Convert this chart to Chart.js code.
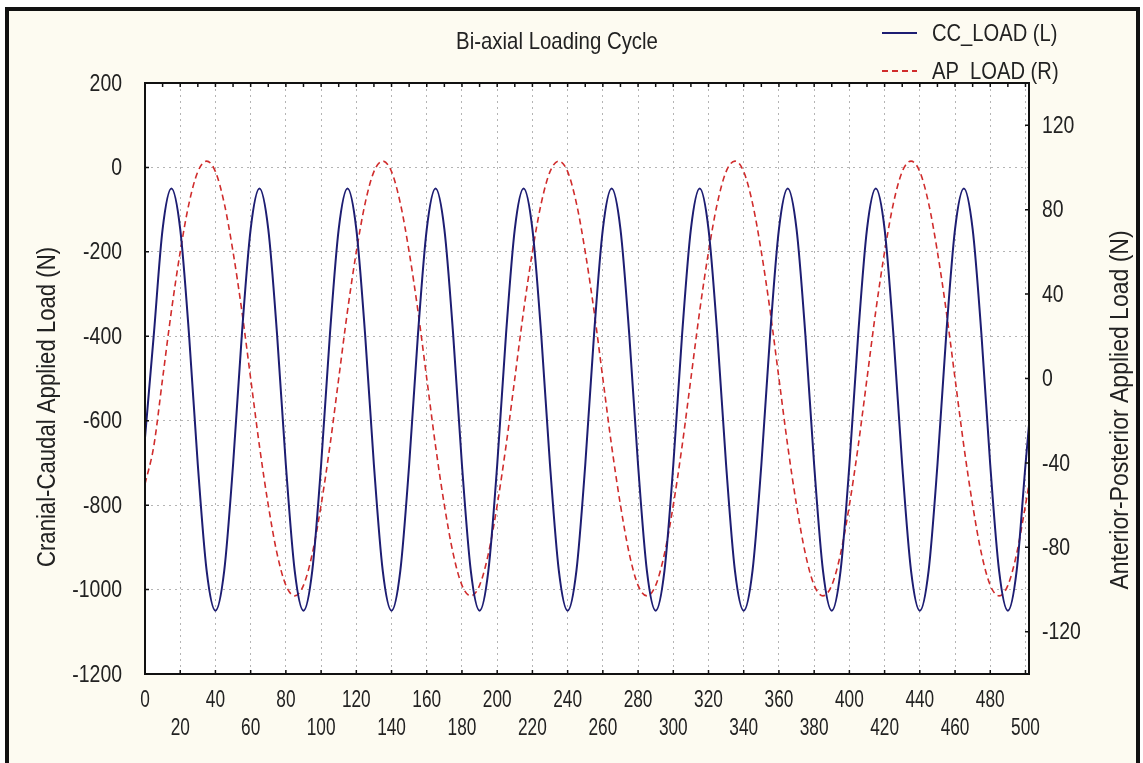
<!DOCTYPE html>
<html>
<head>
<meta charset="utf-8">
<script src="https://cdn.jsdelivr.net/npm/chart.js@4.4.1/dist/chart.umd.min.js"></script>
<style>
  html, body { margin: 0; padding: 0; background: #fff; }
  #wrap { width: 1143px; height: 763px; }
</style>
</head>
<body>
<div id="wrap"><canvas id="loadChart" width="1143" height="763"></canvas></div>
<script>
// sample position (cycle axis)
const cycle = [
  0, 5, 10, 15, 20, 25, 30, 35, 40, 45,
  50, 55, 60, 65, 70, 75, 80, 85, 90, 95,
  100, 105, 110, 115, 120, 125, 130, 135, 140, 145,
  150, 155, 160, 165, 170, 175, 180, 185, 190, 195,
  200, 205, 210, 215, 220, 225, 230, 235, 240, 245,
  250, 255, 260, 265, 270, 275, 280, 285, 290, 295,
  300, 305, 310, 315, 320, 325, 330, 335, 340, 345,
  350, 355, 360, 365, 370, 375, 380, 385, 390, 395,
  400, 405, 410, 415, 420, 425, 430, 435, 440, 445,
  450, 455, 460, 465, 470, 475, 480, 485, 490, 495,
  500, 502
];

// CC_LOAD (N), left axis
const ccLoad = [
  -640, -396, -146, -50, -146, -396, -705, -955, -1050, -955,
  -705, -396, -146, -50, -146, -396, -705, -955, -1050, -955,
  -705, -396, -146, -50, -146, -396, -705, -955, -1050, -955,
  -705, -396, -146, -50, -146, -396, -705, -955, -1050, -955,
  -705, -396, -146, -50, -146, -396, -705, -955, -1050, -955,
  -705, -396, -146, -50, -146, -396, -705, -955, -1050, -955,
  -705, -396, -146, -50, -146, -396, -705, -955, -1050, -955,
  -705, -396, -146, -50, -146, -396, -705, -955, -1050, -955,
  -705, -396, -146, -50, -146, -396, -705, -955, -1050, -955,
  -705, -396, -146, -50, -146, -396, -705, -955, -1050, -955,
  -705, -610
];

// AP_LOAD (N), right axis
const apLoad = [
  -50, -32, 0, 32, 60, 83, 98, 103, 98, 83,
  60, 32, 0, -32, -60, -83, -98, -103, -98, -83,
  -60, -32, 0, 32, 60, 83, 98, 103, 98, 83,
  60, 32, 0, -32, -60, -83, -98, -103, -98, -83,
  -60, -32, 0, 32, 60, 83, 98, 103, 98, 83,
  60, 32, 0, -32, -60, -83, -98, -103, -98, -83,
  -60, -32, 0, 32, 60, 83, 98, 103, 98, 83,
  60, 32, 0, -32, -60, -83, -98, -103, -98, -83,
  -60, -32, 0, 32, 60, 83, 98, 103, 98, 83,
  60, 32, 0, -32, -60, -83, -98, -103, -98, -83,
  -60, -50
];

const xTicks = [0, 20, 40, 60, 80, 100, 120, 140, 160, 180, 200, 220, 240,
  260, 280, 300, 320, 340, 360, 380, 400, 420, 440, 460, 480, 500];
const leftTicks = [-1200, -1000, -800, -600, -400, -200, 0, 200];
const rightTicks = [-120, -80, -40, 0, 40, 80, 120];

const FONT = "'Liberation Sans Narrow', 'Arial Narrow', 'Liberation Sans', Arial, sans-serif";
Chart.defaults.font.family = FONT;
Chart.defaults.font.size = 23;
Chart.defaults.color = '#222';

const BLUE = '#1d1d72';
const RED = '#d02c2c';

const toPoints = (ys) => ys.map((y, i) => ({ x: cycle[i], y: y }));

// narrow text: the original uses a condensed face, so squeeze horizontally
function narrowText(ctx, text, x, y, sx, align, rot) {
  ctx.save();
  ctx.translate(x, y);
  if (rot) ctx.rotate(rot);
  ctx.scale(sx, 1);
  ctx.textAlign = align;
  ctx.fillText(text, 0, 0);
  ctx.restore();
}

const decor = {
  id: 'decor',
  beforeDraw(chart) {
    const { ctx, chartArea: a } = chart;
    ctx.save();
    ctx.fillStyle = '#fff';
    ctx.fillRect(0, 0, chart.width, chart.height);
    ctx.fillStyle = '#fdfbf1';
    ctx.fillRect(7, 9, 1131, 800);
    ctx.strokeStyle = '#111';
    ctx.lineWidth = 4;
    ctx.strokeRect(7, 9, 1131, 800);
    ctx.fillStyle = '#fff';
    ctx.fillRect(a.left, a.top, a.right - a.left, a.bottom - a.top);
    ctx.restore();
  },
  afterDraw(chart) {
    const { ctx, chartArea: a, scales } = chart;
    ctx.save();
    // plot frame
    ctx.strokeStyle = '#111';
    ctx.lineWidth = 2;
    ctx.strokeRect(a.left, a.top, a.right - a.left, a.bottom - a.top);
    // inward tick marks
    ctx.lineWidth = 1.5;
    ctx.beginPath();
    scales.x.ticks.forEach(t => {
      const px = scales.x.getPixelForValue(t.value);
      ctx.moveTo(px, a.bottom); ctx.lineTo(px, a.bottom - 4);
    });
    for (let v = 10; v < 502; v += 10) {
      const px = scales.x.getPixelForValue(v);
      ctx.moveTo(px, a.top); ctx.lineTo(px, a.top + 4);
    }
    scales.y.ticks.forEach(t => {
      const py = scales.y.getPixelForValue(t.value);
      ctx.moveTo(a.left, py); ctx.lineTo(a.left + 4, py);
    });
    scales.y1.ticks.forEach(t => {
      const py = scales.y1.getPixelForValue(t.value);
      ctx.moveTo(a.right, py); ctx.lineTo(a.right - 4, py);
    });
    ctx.stroke();

    ctx.fillStyle = '#222';
    ctx.textBaseline = 'middle';

    // tick labels
    ctx.font = '24px ' + FONT;
    scales.y.ticks.forEach(t => {
      narrowText(ctx, String(t.value), a.left - 23, scales.y.getPixelForValue(t.value) + 1, 0.81, 'right');
    });
    scales.y1.ticks.forEach(t => {
      narrowText(ctx, String(t.value), a.right + 13, scales.y1.getPixelForValue(t.value) + 1, 0.81, 'left');
    });
    ctx.font = '23px ' + FONT;
    scales.x.ticks.forEach(t => {
      const row = (t.value / 20) % 2 === 0 ? 701 : 729;
      narrowText(ctx, String(t.value), scales.x.getPixelForValue(t.value), row, 0.75, 'center');
    });

    // title
    ctx.font = '24px ' + FONT;
    narrowText(ctx, 'Bi-axial Loading Cycle', 557, 42, 0.85, 'center');

    // legend
    narrowText(ctx, 'CC_LOAD (L)', 932, 34, 0.84, 'left');
    narrowText(ctx, 'AP_LOAD (R)', 932, 72, 0.84, 'left');
    ctx.lineWidth = 2;
    ctx.strokeStyle = BLUE;
    ctx.beginPath(); ctx.moveTo(882, 33); ctx.lineTo(917, 33); ctx.stroke();
    ctx.strokeStyle = RED;
    ctx.setLineDash([6, 4]);
    ctx.beginPath(); ctx.moveTo(882, 71); ctx.lineTo(917, 71); ctx.stroke();
    ctx.setLineDash([]);

    // axis titles
    ctx.font = '25px ' + FONT;
    narrowText(ctx, 'Cranial-Caudal Applied Load (N)', 48, 407, 0.886, 'center', -Math.PI / 2);
    narrowText(ctx, 'Anterior-Posterior Applied Load (N)', 1121, 410, 0.92, 'center', -Math.PI / 2);
    ctx.restore();
  }
};

new Chart(document.getElementById('loadChart'), {
  type: 'line',
  data: {
    datasets: [{
      label: 'CC_LOAD (L)',
      data: toPoints(ccLoad),
      yAxisID: 'y',
      borderColor: BLUE,
      borderWidth: 2,
      pointRadius: 0,
      cubicInterpolationMode: 'monotone',
      fill: false
    }, {
      label: 'AP_LOAD (R)',
      data: toPoints(apLoad),
      yAxisID: 'y1',
      borderColor: RED,
      borderWidth: 1.6,
      borderDash: [6, 4],
      pointRadius: 0,
      cubicInterpolationMode: 'monotone',
      fill: false
    }]
  },
  options: {
    responsive: false,
    animation: false,
    layout: { padding: { top: 83, left: 0, right: 0, bottom: 0 } },
    plugins: { legend: { display: false }, title: { display: false }, tooltip: { enabled: false } },
    scales: {
      x: {
        type: 'linear',
        min: 0,
        max: 502,
        afterBuildTicks: (s) => { s.ticks = xTicks.map(v => ({ value: v })); },
        afterFit: (s) => { s.height = 89; },
        ticks: { display: false },
        grid: { color: '#b4b4b4', lineWidth: 1, drawTicks: false },
        border: { display: false, dash: [2, 4] }
      },
      y: {
        position: 'left',
        min: -1200,
        max: 200,
        afterBuildTicks: (s) => { s.ticks = leftTicks.map(v => ({ value: v })); },
        afterFit: (s) => { s.width = 145; },
        ticks: { display: false },
        grid: { color: '#b4b4b4', lineWidth: 1, drawTicks: false },
        border: { display: false, dash: [2, 4] }
      },
      y1: {
        position: 'right',
        min: -140,
        max: 140,
        afterBuildTicks: (s) => { s.ticks = rightTicks.map(v => ({ value: v })); },
        afterFit: (s) => { s.width = 114; },
        ticks: { display: false },
        grid: { display: false, drawTicks: false },
        border: { display: false }
      }
    }
  },
  plugins: [decor]
});
</script>
</body>
</html>
